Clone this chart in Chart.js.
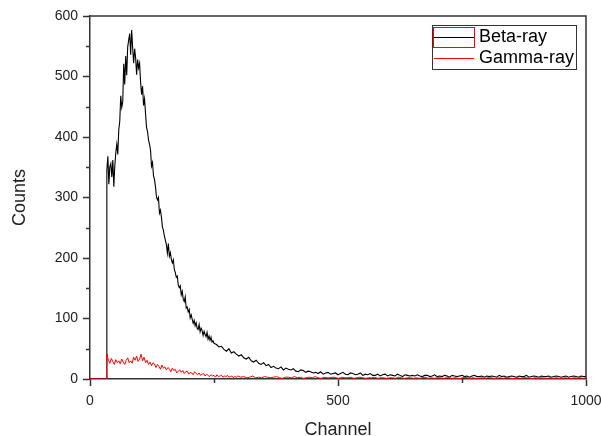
<!DOCTYPE html>
<html>
<head>
<meta charset="utf-8">
<title>Beta-ray / Gamma-ray</title>
<script src="https://cdn.jsdelivr.net/npm/chart.js@4.4.1/dist/chart.umd.min.js"></script>
<style>
    html, body { margin: 0; padding: 0; background: #fff; }
</style>
</head>
<body>
<canvas id="graficoEspectro" width="601" height="436"></canvas>
<script>
// --- dados ---
// abaixo do limiar (canal 33) a contagem é zero
const leadChannels = [0, 33];
const leadCounts = [0, 0];

// Beta-ray: canais 34..250 a cada 2, depois 255..1000 a cada 5
const betaPeakStart = 34, betaPeakStep = 2;
const betaPeakCounts = [
    345, 368, 322, 351, 356, 334, 362, 318,
    352, 374, 388, 371, 412, 426, 468, 449, 458, 521,
    487, 534, 502, 549, 560, 571, 536, 577, 548, 522,
    546, 531, 503, 528, 514, 522, 491, 470, 484, 452,
    463, 438, 416, 409, 395, 388, 379, 352, 358, 336,
    330, 318, 301, 296, 300, 274, 279, 268, 251, 246,
    236, 229, 222, 208, 224, 203, 209, 198, 192, 197,
    181, 176, 168, 170, 155, 151, 154, 139, 145, 132,
    128, 136, 117, 119, 111, 115, 101, 106, 99, 92,
    97, 88, 93, 84, 82, 90, 78, 84, 80, 72,
    79, 74, 70, 77, 66, 71, 64, 69, 61, 63, 59
];
const betaTailStart = 255, betaTailStep = 5;
const betaTailCounts = [
    57, 53, 54, 49, 46, 50, 43, 45, 41, 38,
    40, 35, 33, 36, 30, 28, 31, 26, 24, 27,
    22, 24, 19, 21, 18, 17, 20, 15, 18, 16,
    15, 17, 13, 12, 15, 14, 11, 13, 12, 10,
    11, 9, 12, 8, 10, 11, 8, 9, 10, 7,
    9, 11, 8, 7, 10, 9, 7, 8, 10, 6,
    8, 7, 9, 6, 6, 8, 5, 7, 8, 5,
    7, 6, 5, 8, 6, 4, 7, 6, 5, 6,
    5, 7, 5, 4, 6, 6, 4, 5, 7, 4,
    5, 4, 6, 5, 3, 6, 5, 4, 5, 6,
    4, 5, 3, 5, 6, 4, 4, 5, 3, 5,
    4, 5, 4, 3, 6, 4, 5, 3, 4, 5,
    4, 3, 5, 4, 4, 6, 3, 4, 5, 4,
    3, 5, 4, 4, 5, 3, 4, 5, 4, 3,
    4, 5, 3, 4, 5, 4, 3, 5, 4, 4
];

// Gamma-ray: canais 34..298 a cada 3, depois 304..1000 a cada 6
const gammaHeadStart = 34, gammaHeadStep = 3;
const gammaHeadCounts = [
    42, 31, 26, 34, 29, 24, 32, 27, 30, 25,
    33, 28, 24, 31, 35, 27, 30, 26, 36, 31,
    38, 29, 33, 41, 30, 36, 27, 31, 24, 28,
    22, 27, 25, 19, 24, 21, 16, 23, 18, 20,
    15, 19, 17, 12, 18, 14, 16, 10, 13, 15,
    11, 14, 9, 12, 13, 8, 11, 10, 7, 12,
    9, 7, 10, 6, 8, 9, 5, 8, 6, 4,
    7, 5, 6, 3, 7, 4, 5, 6, 3, 5,
    4, 6, 3, 4, 5, 2, 4, 3, 5
];
const gammaTailStart = 304, gammaTailStep = 6;
const gammaTailCounts = [
    3, 4, 2, 3, 5, 2, 3, 2, 4, 3,
    2, 3, 4, 2, 1, 3, 3, 2, 4, 2,
    3, 1, 2, 3, 2, 4, 2, 1, 3, 2,
    2, 3, 2, 1, 3, 2, 2, 3, 1, 2,
    3, 2, 1, 2, 2, 3, 1, 2, 2, 1,
    2, 2, 1, 3, 2, 1, 2, 2, 1, 2,
    1, 2, 3, 1, 2, 1, 2, 2, 1, 2,
    2, 1, 2, 1, 1, 3, 2, 1, 2, 1,
    1, 2, 1, 2, 2, 1, 1, 2, 1, 2,
    2, 1, 1, 2, 1, 2, 2, 1, 1, 2,
    1, 2, 1, 1, 2, 1, 2, 1, 1, 2,
    1, 1, 2, 1, 2, 1, 1
];

// ticks
const xMajorTicks = [0, 500, 1000];
const xMinorTicks = [250, 750];
const yMinorTicks = [50, 150, 250, 350, 450, 550];

const seriesLabels = ['Beta-ray', 'Gamma-ray'];
const seriesColors = ['#000000', '#ff0000'];

const FONTE = "'Liberation Sans', Arial, sans-serif";
const COR_EIXO = '#333333';

function channelGrid(start, step, n) {
    const out = [];
    for (let i = 0; i < n; i++) out.push(start + i * step);
    return out;
}

function toPoints(channels, counts) {
    return channels.map((c, i) => ({ x: c, y: counts[i] }));
}

const betaChannels = leadChannels
    .concat(channelGrid(betaPeakStart, betaPeakStep, betaPeakCounts.length))
    .concat(channelGrid(betaTailStart, betaTailStep, betaTailCounts.length));
const betaCounts = leadCounts.concat(betaPeakCounts, betaTailCounts);

const gammaChannels = leadChannels
    .concat(channelGrid(gammaHeadStart, gammaHeadStep, gammaHeadCounts.length))
    .concat(channelGrid(gammaTailStart, gammaTailStep, gammaTailCounts.length));
const gammaCounts = leadCounts.concat(gammaHeadCounts, gammaTailCounts);

// ticks menores, moldura e legenda
const molduraPlugin = {
    id: 'moldura',
    afterDraw(chart) {
        const { ctx, chartArea, scales } = chart;
        const x = scales.x, y = scales.y;
        ctx.save();
        ctx.strokeStyle = COR_EIXO;
        ctx.lineWidth = 1.5;
        ctx.beginPath();
        ctx.moveTo(chartArea.left, chartArea.top);
        ctx.lineTo(chartArea.right, chartArea.top);
        ctx.lineTo(chartArea.right, chartArea.bottom);
        yMinorTicks.forEach(v => {
            const py = Math.round(y.getPixelForValue(v)) + 0.5;
            ctx.moveTo(chartArea.left - 4, py);
            ctx.lineTo(chartArea.left, py);
        });
        xMinorTicks.forEach(v => {
            const px = Math.round(x.getPixelForValue(v)) + 0.5;
            ctx.moveTo(px, chartArea.bottom);
            ctx.lineTo(px, chartArea.bottom + 4);
        });
        ctx.stroke();

        // legenda
        const lx = chartArea.right - 154, ly = chartArea.top + 9;
        ctx.lineWidth = 1;
        ctx.strokeStyle = COR_EIXO;
        ctx.strokeRect(lx + 0.5, ly + 0.5, 144, 44);

        ctx.font = '18px ' + FONTE;
        ctx.textBaseline = 'middle';
        ctx.fillStyle = '#000';

        // Beta-ray: linha preta dentro de um contorno vermelho
        ctx.strokeStyle = seriesColors[1];
        ctx.strokeRect(lx + 1.5, ly + 2.5, 41, 20);
        ctx.strokeStyle = seriesColors[0];
        ctx.beginPath();
        ctx.moveTo(lx + 2, ly + 12.5);
        ctx.lineTo(lx + 42, ly + 12.5);
        ctx.stroke();
        ctx.fillText(seriesLabels[0], lx + 47, ly + 12);

        // Gamma-ray
        ctx.strokeStyle = seriesColors[1];
        ctx.beginPath();
        ctx.moveTo(lx + 2, ly + 33.5);
        ctx.lineTo(lx + 42, ly + 33.5);
        ctx.stroke();
        ctx.fillText(seriesLabels[1], lx + 47, ly + 33);
        ctx.restore();
    }
};

Chart.defaults.font.family = FONTE;
Chart.defaults.color = '#222';

const ctx = document.getElementById('graficoEspectro').getContext('2d');
const chart = new Chart(ctx, {
    type: 'line',
    data: {
        datasets: [{
            label: seriesLabels[0],
            data: toPoints(betaChannels, betaCounts),
            borderColor: seriesColors[0],
            borderWidth: 1.1,
            pointRadius: 0,
            tension: 0,
            order: 2
        }, {
            label: seriesLabels[1],
            data: toPoints(gammaChannels, gammaCounts),
            borderColor: seriesColors[1],
            borderWidth: 1,
            pointRadius: 0,
            tension: 0,
            order: 1
        }]
    },
    options: {
        responsive: false,
        animation: false,
        layout: { padding: { top: 16, right: 15, left: 0, bottom: 0 } },
        plugins: {
            legend: { display: false },
            tooltip: { enabled: false }
        },
        scales: {
            x: {
                type: 'linear',
                min: 0,
                max: 1000,
                afterBuildTicks: s => { s.ticks = xMajorTicks.map(v => ({ value: v })); },
                ticks: { font: { size: 14 }, padding: 7, maxRotation: 0, autoSkip: false, callback: v => String(v) },
                grid: { drawOnChartArea: false, drawTicks: true, tickLength: 7, tickColor: COR_EIXO, tickWidth: 1.5 },
                border: { color: COR_EIXO, width: 1.5 },
                title: { display: true, text: 'Channel', font: { size: 18, lineHeight: 0.7 }, padding: { top: 0, bottom: 0 } },
                afterFit: s => { s.height = 57; s.paddingLeft = 0; s.paddingRight = 0; }
            },
            y: {
                min: 0,
                max: 600,
                ticks: { stepSize: 100, font: { size: 14 }, padding: 5 },
                grid: { drawOnChartArea: false, drawTicks: true, tickLength: 7, tickColor: COR_EIXO, tickWidth: 1.5 },
                border: { color: COR_EIXO, width: 1.5 },
                title: { display: true, text: 'Counts', font: { size: 18 }, padding: { top: 9, bottom: 0 } },
                afterFit: s => { s.width = 90; s.paddingTop = 0; s.paddingBottom = 0; }
            }
        }
    },
    plugins: [molduraPlugin]
});
</script>
</body>
</html>
